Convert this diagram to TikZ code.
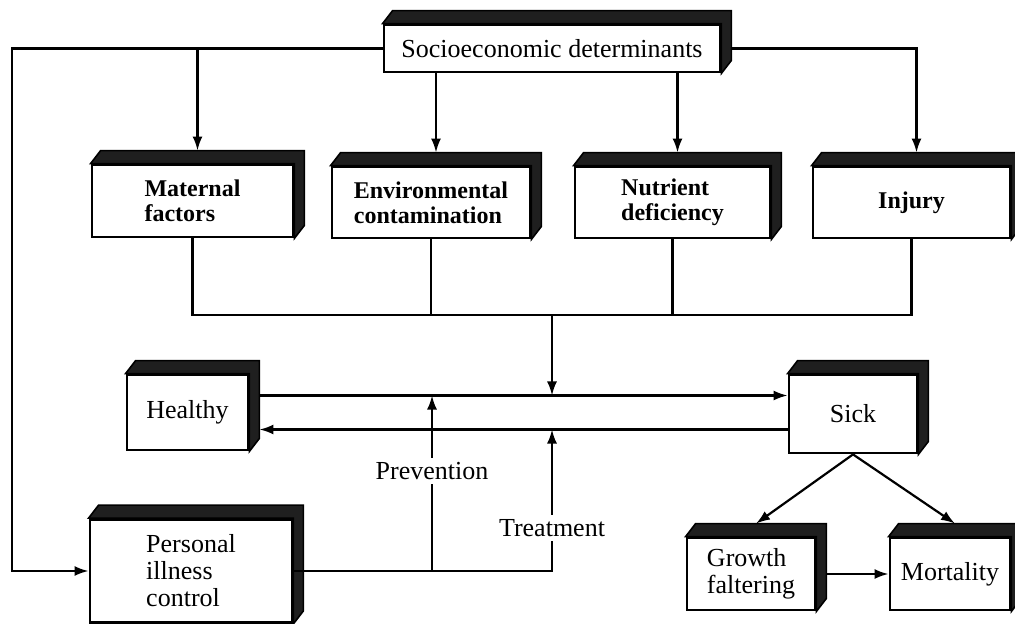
\documentclass[tikz,border=0pt]{standalone}
\usepackage{fontspec}
\setmainfont{Liberation Serif}
\usetikzlibrary{arrows.meta,calc}

\begin{document}
\begin{tikzpicture}[
  x=0.5pt, y=-0.5pt,
  box/.style={draw, line width=1.4pt, fill=white, inner sep=2pt, align=left, font=\fontsize{13}{13.5}\selectfont},
  bbox/.style={box, font=\fontsize{12}{12.5}\selectfont\bfseries},
  sidefill/.style={fill=black!88, draw=black, line width=0.8pt},
  arr/.style={-{Latex[length=7pt,width=5pt]}, line width=1.1pt},
  conn/.style={line width=1.1pt},
  lbl/.style={font=\fontsize{13}{13}\selectfont, inner sep=2pt}
]
\useasboundingbox (0,0) rectangle (1015,624);

% boxes
\node[box, minimum width=168pt, minimum height=23.5pt] (socio) at (552,48.5) {Socioeconomic determinants};
\node[bbox, minimum width=100.5pt, minimum height=36pt] (mat) at (192.5,201) {Maternal\\factors};
\node[bbox, minimum width=99pt, minimum height=35.5pt] (env) at (431,202.5) {Environmental\\contamination};
\node[bbox, minimum width=97.5pt, minimum height=35.5pt] (nut) at (672.5,202.5) {Nutrient\\deficiency};
\node[bbox, minimum width=98.5pt, minimum height=35.5pt] (inj) at (911.5,202.5) {Injury};
\node[box, minimum width=60.5pt, minimum height=37.5pt] (healthy) at (187.5,412.5) {Healthy};
\node[box, minimum width=64pt, minimum height=39pt] (sick) at (853,414) {Sick};
\node[box, minimum width=64pt, minimum height=36pt] (grow) at (751,574) {Growth\\faltering};
\node[box, minimum width=60pt, minimum height=36pt] (mort) at (950,574) {Mortality};
\node[box, minimum width=101pt, minimum height=51.5pt] (pers) at (191,571) {Personal\\illness\\control};

% solid top and side faces
\foreach \n in {socio,mat,env,nut,inj,healthy,sick,grow,mort,pers}{
  \filldraw[sidefill] (\n.north west) -- ++(10,-13) -- ([shift={(10,-13)}]\n.north east)
    -- ([shift={(10,-13)}]\n.south east) -- (\n.south east) -- (\n.north east) -- cycle;
  \coordinate (\n-top) at ([shift={(5,-13)}]\n.north);
  \coordinate (\n-e) at ([shift={(10,0)}]\n.east);
}

% determinants
\draw[arr] (socio.west) -- ++(-371,0) |- (pers.west);
\draw[arr] (socio.west -| mat-top) -- (mat-top);
\draw[arr] (socio.south -| env-top) -- (env-top);
\draw[arr] (socio.south -| nut-top) -- (nut-top);
\draw[arr] (socio-e) -| (inj-top);

% joined risk factors
\draw[conn] (mat.south) -- ++(0,77) coordinate (jn) -- (jn -| inj.south) -- (inj.south);
\draw[conn] (env.south) -- (env.south |- jn);
\draw[conn] (nut.south) -- (nut.south |- jn);

\coordinate (hs) at ([yshift=8.5pt]healthy-e);
\coordinate (sh) at ([yshift=-8.5pt]healthy-e);
\draw[arr] (jn -| socio.south) -- (hs -| socio.south);
\draw[arr] (hs) -- (hs -| sick.west);
\draw[arr] (sh -| sick.west) -- (sh);

% control
\node[lbl] (prev) at (432,471) {Prevention};
\node[lbl] (treat) at (552,528) {Treatment};
\draw[conn] (pers.east) -- (pers.east -| treat.south) -- (treat.south);
\draw[conn] (prev.south |- pers.east) -- (prev.south);
\draw[arr] (prev.north) -- (prev.north |- hs);
\draw[arr] (treat.north) -- (treat.north |- sh);

% outcomes
\draw[arr] (sick.south) -- (grow-top);
\draw[arr] (sick.south) -- (mort-top);
\draw[arr] (grow-e) -- (mort.west);
\end{tikzpicture}
\end{document}
